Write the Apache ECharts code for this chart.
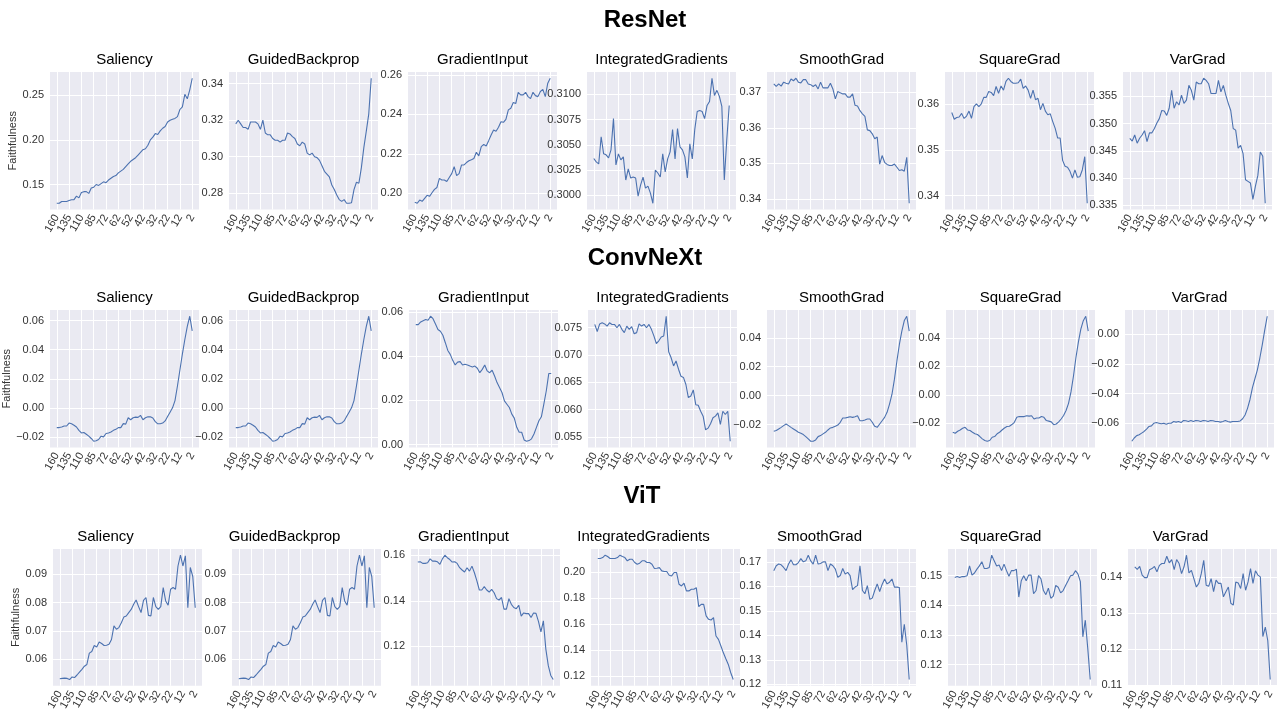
<!DOCTYPE html>
<html><head><meta charset="utf-8">
<script src="https://cdn.jsdelivr.net/npm/echarts@6/dist/echarts.min.js"></script>
<style>html,body{margin:0;padding:0;background:#fff}#c{width:1278px;height:713px}</style>
</head><body><div id="c"></div>
<script>
// ---------- categories & labels ----------
const xCategories = [160,155,150,145,140,135,130,125,120,115,110,105,100,95,90,85,82,80,78,75,
  72,70,68,66,64,62,60,58,56,54,52,50,48,46,44,42,40,38,36,34,32,30,28,26,24,22,20,18,16,14,12,10,8,6,4,2];
const xTickLabels = ['160','135','110','85','72','62','52','42','32','22','12','2'];
const rowNames = ['ResNet','ConvNeXt','ViT'];
const methods = ['Saliency','GuidedBackprop','GradientInput','IntegratedGradients','SmoothGrad','SquareGrad','VarGrad'];
const yAxisName = 'Faithfulness';

// ---------- ResNet ----------
const resnetSaliency = [0.129,0.129,0.131,0.131,0.131,0.132,0.133,0.133,0.137,0.135,0.141,0.142,0.142,0.140,0.146,0.147,0.150,0.149,0.151,0.153,0.152,0.155,0.157,0.159,0.160,0.163,0.165,0.167,0.170,0.173,0.176,0.178,0.180,0.183,0.186,0.189,0.190,0.194,0.200,0.203,0.207,0.206,0.210,0.213,0.215,0.220,0.222,0.223,0.224,0.226,0.234,0.237,0.251,0.246,0.256,0.269];
const resnetGuidedBackprop = [0.318,0.320,0.318,0.316,0.316,0.315,0.319,0.319,0.319,0.318,0.315,0.320,0.313,0.312,0.312,0.310,0.309,0.309,0.308,0.309,0.309,0.313,0.3125,0.311,0.310,0.307,0.306,0.308,0.307,0.302,0.301,0.302,0.300,0.2995,0.298,0.295,0.292,0.2905,0.289,0.2845,0.282,0.279,0.2765,0.2755,0.2765,0.2745,0.2745,0.2748,0.282,0.286,0.2855,0.294,0.305,0.314,0.3235,0.343];
const resnetGradientInput = [0.1955,0.195,0.1966,0.196,0.1975,0.199,0.1985,0.2003,0.202,0.203,0.2076,0.2068,0.2068,0.206,0.208,0.210,0.2135,0.209,0.210,0.2144,0.2144,0.2156,0.2165,0.217,0.2177,0.2208,0.219,0.2237,0.2248,0.224,0.2267,0.2296,0.2321,0.2315,0.2335,0.2363,0.236,0.2375,0.2423,0.2431,0.246,0.2455,0.2512,0.2499,0.2499,0.2512,0.249,0.248,0.2512,0.2495,0.249,0.2516,0.2527,0.249,0.2558,0.2583];
const resnetIntegratedGradients = [0.30364,0.3033,0.3031,0.3058,0.3041,0.3040,0.3037,0.3045,0.3076,0.3030,0.3041,0.3035,0.3038,0.3015,0.3026,0.3017,0.3018,0.3017,0.2999,0.3010,0.3018,0.3007,0.3009,0.3002,0.2992,0.3025,0.3022,0.3018,0.3041,0.3023,0.3036,0.3043,0.3065,0.3036,0.3066,0.3048,0.3045,0.3038,0.3017,0.3051,0.3036,0.3065,0.3083,0.3084,0.3083,0.3076,0.3089,0.3093,0.3116,0.3099,0.3104,0.3098,0.3088,0.3015,0.3055,0.3089];
const resnetSmoothGrad = [0.3723,0.3716,0.3723,0.3717,0.3728,0.3725,0.3723,0.3737,0.3732,0.3739,0.3728,0.3726,0.3735,0.3735,0.3723,0.3721,0.3716,0.3721,0.3709,0.3728,0.3712,0.3712,0.3712,0.3725,0.3709,0.3681,0.3702,0.3698,0.3695,0.3695,0.3686,0.3686,0.3695,0.3663,0.3661,0.3648,0.3639,0.3632,0.3594,0.3592,0.3583,0.3569,0.3574,0.3498,0.3522,0.3503,0.3497,0.3494,0.3494,0.3498,0.3489,0.3480,0.3482,0.3478,0.3517,0.3388];
const resnetSquareGrad = [0.3582,0.3567,0.3571,0.3572,0.358,0.3569,0.3574,0.3585,0.3569,0.3595,0.3601,0.3595,0.3601,0.3615,0.3615,0.3628,0.3626,0.3619,0.3639,0.3624,0.364,0.3631,0.365,0.3657,0.365,0.3646,0.3646,0.3647,0.3655,0.3635,0.364,0.3631,0.3613,0.3631,0.361,0.3613,0.3588,0.3602,0.3585,0.3577,0.3579,0.3562,0.3547,0.3526,0.3526,0.3477,0.3464,0.3462,0.3453,0.3438,0.3456,0.344,0.3441,0.3456,0.3485,0.3383];
const resnetVarGrad = [0.3473,0.3468,0.3479,0.3464,0.3473,0.3479,0.3487,0.3467,0.3483,0.3483,0.3491,0.3501,0.3509,0.3524,0.3523,0.3515,0.3528,0.3561,0.3528,0.354,0.3534,0.3552,0.3537,0.3543,0.357,0.3561,0.3543,0.3576,0.3573,0.3573,0.3583,0.3579,0.3573,0.3555,0.3555,0.3555,0.3579,0.3558,0.357,0.3552,0.3537,0.3524,0.3491,0.3488,0.3455,0.346,0.3445,0.3397,0.3394,0.3391,0.3361,0.3385,0.3405,0.3448,0.344,0.3354];

// ---------- ConvNeXt ----------
const convnextSaliency = [-0.0136,-0.0136,-0.0132,-0.0125,-0.0125,-0.0105,-0.011,-0.012,-0.0132,-0.0155,-0.0173,-0.017,-0.0182,-0.0195,-0.0211,-0.023,-0.0227,-0.0218,-0.0195,-0.02,-0.0177,-0.0173,-0.0166,-0.0155,-0.0148,-0.0136,-0.0136,-0.0109,-0.0112,-0.0068,-0.0082,-0.0068,-0.0064,-0.0066,-0.0052,-0.0082,-0.0068,-0.0062,-0.0062,-0.007,-0.0095,-0.011,-0.011,-0.0105,-0.009,-0.006,-0.003,0.0,0.005,0.015,0.026,0.037,0.047,0.056,0.063,0.053];
const convnextGuidedBackprop = [-0.0136,-0.0136,-0.0132,-0.0125,-0.0125,-0.0105,-0.011,-0.012,-0.0132,-0.0155,-0.0173,-0.017,-0.0182,-0.0195,-0.0211,-0.023,-0.0227,-0.0218,-0.0195,-0.02,-0.0177,-0.0173,-0.0166,-0.0155,-0.0148,-0.0136,-0.0136,-0.0109,-0.0112,-0.0068,-0.0082,-0.0068,-0.0064,-0.0066,-0.0052,-0.0082,-0.0068,-0.0062,-0.0062,-0.007,-0.0095,-0.011,-0.011,-0.0105,-0.009,-0.006,-0.003,0.0,0.005,0.015,0.026,0.037,0.047,0.056,0.063,0.053];
const convnextGradientInput = [0.0544,0.0544,0.0556,0.0562,0.0567,0.0564,0.0582,0.0571,0.0547,0.0522,0.0514,0.0496,0.0462,0.0427,0.0409,0.0382,0.0361,0.0374,0.0376,0.0361,0.0364,0.0361,0.0356,0.0352,0.0356,0.0346,0.0326,0.0341,0.0361,0.0334,0.0326,0.0337,0.0311,0.0281,0.0259,0.0236,0.0198,0.0183,0.0168,0.0138,0.012,0.0078,0.0056,0.0056,0.0021,0.0015,0.0018,0.0026,0.0048,0.0078,0.0108,0.0126,0.0183,0.0244,0.0322,0.0322];
const convnextIntegratedGradients = [0.0756,0.0743,0.0757,0.0759,0.0757,0.0753,0.0759,0.0756,0.0756,0.075,0.0756,0.0747,0.0741,0.0753,0.0747,0.0752,0.0739,0.0741,0.0757,0.0753,0.0756,0.075,0.0756,0.0747,0.0735,0.0721,0.0726,0.0733,0.0735,0.0771,0.0706,0.0695,0.068,0.0689,0.0674,0.0661,0.0659,0.0646,0.0622,0.0625,0.0636,0.0609,0.0608,0.0597,0.0588,0.0563,0.0566,0.0574,0.0585,0.0588,0.0594,0.0573,0.0597,0.0591,0.0597,0.0542];
const convnextSmoothGrad = [-0.0246,-0.0241,-0.023,-0.0219,-0.0207,-0.0196,-0.0207,-0.0219,-0.023,-0.0241,-0.0253,-0.026,-0.0269,-0.0283,-0.0299,-0.0315,-0.0315,-0.0306,-0.0283,-0.0276,-0.0264,-0.0253,-0.0237,-0.0223,-0.0219,-0.0212,-0.0203,-0.0184,-0.0154,-0.0154,-0.015,-0.0145,-0.015,-0.0145,-0.0138,-0.0173,-0.0173,-0.0168,-0.0161,-0.0161,-0.0184,-0.0212,-0.0219,-0.0196,-0.0173,-0.015,-0.0115,-0.0058,0.001,0.0114,0.024,0.0354,0.0446,0.0519,0.0549,0.0446];
const convnextSquareGrad = [-0.0263,-0.027,-0.0256,-0.0247,-0.0235,-0.0228,-0.0247,-0.0251,-0.0263,-0.0274,-0.0279,-0.0293,-0.0309,-0.0321,-0.0326,-0.0321,-0.0298,-0.0293,-0.0274,-0.0263,-0.0247,-0.0233,-0.0223,-0.0221,-0.0209,-0.0193,-0.0158,-0.0153,-0.0153,-0.0153,-0.0147,-0.015,-0.0147,-0.017,-0.0163,-0.0163,-0.0153,-0.0158,-0.0181,-0.0185,-0.019,-0.021,-0.0205,-0.019,-0.017,-0.0145,-0.011,-0.006,0.002,0.013,0.026,0.037,0.046,0.052,0.0551,0.0447];
const convnextVarGrad = [-0.0722,-0.07,-0.0684,-0.0678,-0.0667,-0.0656,-0.064,-0.0622,-0.0618,-0.06,-0.0596,-0.06,-0.0604,-0.06,-0.0607,-0.06,-0.06,-0.0589,-0.0593,-0.0589,-0.0596,-0.0582,-0.0584,-0.0589,-0.0582,-0.0589,-0.0582,-0.0584,-0.0589,-0.0582,-0.0584,-0.0589,-0.0582,-0.0584,-0.0589,-0.0589,-0.0593,-0.0589,-0.0582,-0.0589,-0.0593,-0.0589,-0.0589,-0.0589,-0.0585,-0.057,-0.0545,-0.05,-0.044,-0.036,-0.03,-0.024,-0.016,-0.007,0.003,0.0122];

// ---------- ViT ----------
const vitSaliency = [0.0532,0.0533,0.0534,0.0533,0.0529,0.0538,0.0536,0.0545,0.0555,0.0565,0.0576,0.0582,0.0622,0.0628,0.0649,0.0644,0.0661,0.0656,0.0649,0.065,0.0653,0.067,0.0718,0.0706,0.0712,0.0729,0.0749,0.0753,0.0765,0.0776,0.0794,0.0809,0.0786,0.0765,0.0808,0.0818,0.0755,0.0753,0.0818,0.0786,0.0776,0.0786,0.0853,0.0806,0.0791,0.0847,0.0853,0.0847,0.0929,0.0967,0.0929,0.0965,0.0782,0.0924,0.0892,0.0782];
const vitGuidedBackprop = [0.0532,0.0533,0.0534,0.0533,0.0529,0.0538,0.0536,0.0545,0.0555,0.0565,0.0576,0.0582,0.0622,0.0628,0.0649,0.0644,0.0661,0.0656,0.0649,0.065,0.0653,0.067,0.0718,0.0706,0.0712,0.0729,0.0749,0.0753,0.0765,0.0776,0.0794,0.0809,0.0786,0.0765,0.0808,0.0818,0.0755,0.0753,0.0818,0.0786,0.0776,0.0786,0.0853,0.0806,0.0791,0.0847,0.0853,0.0847,0.0929,0.0967,0.0929,0.0965,0.0782,0.0924,0.0892,0.0782];
const vitGradientInput = [0.1571,0.1572,0.1565,0.1565,0.1568,0.1585,0.1575,0.1575,0.1572,0.1561,0.1585,0.1601,0.159,0.1582,0.1571,0.1572,0.1565,0.1546,0.1536,0.1527,0.1546,0.1531,0.1553,0.1524,0.1488,0.1448,0.1448,0.1463,0.1448,0.1439,0.1451,0.1436,0.141,0.1404,0.1415,0.1364,0.1364,0.141,0.1385,0.1371,0.1366,0.1381,0.1333,0.1347,0.1344,0.1344,0.1327,0.1347,0.1345,0.131,0.1264,0.1312,0.1188,0.1115,0.1072,0.1054];
const vitIntegratedGradients = [0.2103,0.2103,0.211,0.2128,0.2118,0.2103,0.2103,0.2103,0.211,0.2128,0.2118,0.211,0.2085,0.2097,0.2097,0.2072,0.2059,0.2067,0.2085,0.2085,0.2072,0.2072,0.2059,0.2026,0.2028,0.2033,0.2008,0.2003,0.2003,0.1974,0.1969,0.1995,0.1995,0.1905,0.1892,0.1913,0.1854,0.1854,0.1867,0.1867,0.1879,0.1733,0.1751,0.1751,0.1662,0.1636,0.1631,0.1649,0.1508,0.1482,0.1431,0.1379,0.1333,0.129,0.1226,0.1174];
const vitSmoothGrad = [0.1664,0.1684,0.1691,0.1688,0.1677,0.1664,0.1691,0.1708,0.1688,0.1688,0.1697,0.1713,0.17,0.1704,0.1727,0.1704,0.1691,0.1727,0.1691,0.1693,0.17,0.17,0.1664,0.1691,0.1684,0.167,0.1637,0.1644,0.1673,0.165,0.1657,0.1644,0.1587,0.1597,0.1603,0.1684,0.1583,0.157,0.1603,0.1547,0.1552,0.1583,0.161,0.1579,0.1608,0.163,0.161,0.1617,0.163,0.1597,0.1597,0.1595,0.1372,0.1445,0.136,0.122];
const vitSquareGrad = [0.1494,0.1497,0.1494,0.1497,0.1497,0.15,0.1533,0.1502,0.1509,0.1522,0.1533,0.1547,0.1524,0.1524,0.1528,0.1569,0.155,0.1533,0.1536,0.1517,0.1539,0.1517,0.1498,0.1517,0.1517,0.1522,0.1428,0.1483,0.15,0.1483,0.1502,0.1502,0.1439,0.145,0.15,0.1489,0.145,0.1436,0.1458,0.1424,0.1431,0.1467,0.1461,0.1442,0.145,0.1467,0.1483,0.15,0.1502,0.1517,0.1506,0.148,0.1294,0.135,0.1255,0.115];
const vitVarGrad = [0.1428,0.1421,0.1429,0.1405,0.1398,0.1398,0.142,0.1423,0.1429,0.1414,0.1432,0.1437,0.1437,0.1457,0.1439,0.1448,0.142,0.1448,0.1437,0.1409,0.1428,0.146,0.1411,0.1418,0.1395,0.1372,0.1382,0.1409,0.1446,0.1377,0.1374,0.1395,0.1359,0.1391,0.1382,0.1382,0.1345,0.1359,0.1372,0.1327,0.1322,0.1386,0.1383,0.1368,0.1409,0.1363,0.1386,0.1423,0.1382,0.1417,0.1405,0.14,0.1235,0.1261,0.1224,0.1116];

// ---------- y tick labels ----------
const resnetTicks = [['0.15','0.20','0.25'],['0.28','0.30','0.32','0.34'],['0.20','0.22','0.24','0.26'],['0.3000','0.3025','0.3050','0.3075','0.3100'],['0.34','0.35','0.36','0.37'],['0.34','0.35','0.36'],['0.335','0.340','0.345','0.350','0.355']];
const convnextTicks = [['−0.02','0.00','0.02','0.04','0.06'],['−0.02','0.00','0.02','0.04','0.06'],['0.00','0.02','0.04','0.06'],['0.055','0.060','0.065','0.070','0.075'],['−0.02','0.00','0.02','0.04'],['−0.02','0.00','0.02','0.04'],['−0.06','−0.04','−0.02','0.00']];
const vitTicks = [['0.06','0.07','0.08','0.09'],['0.06','0.07','0.08','0.09'],['0.12','0.14','0.16'],['0.12','0.14','0.16','0.18','0.20'],['0.12','0.13','0.14','0.15','0.16','0.17'],['0.12','0.13','0.14','0.15'],['0.11','0.12','0.13','0.14']];

const rowData = [
  [resnetSaliency,resnetGuidedBackprop,resnetGradientInput,resnetIntegratedGradients,resnetSmoothGrad,resnetSquareGrad,resnetVarGrad],
  [convnextSaliency,convnextGuidedBackprop,convnextGradientInput,convnextIntegratedGradients,convnextSmoothGrad,convnextSquareGrad,convnextVarGrad],
  [vitSaliency,vitGuidedBackprop,vitGradientInput,vitIntegratedGradients,vitSmoothGrad,vitSquareGrad,vitVarGrad]
];
const rowTicks = [resnetTicks, convnextTicks, vitTicks];

// ---------- layout ----------
const rowTops = [72, 310, 549];
const plotH = 137.5;
const plotW = 149;
const colLefts = [
  [50,229,408,587,767,945,1123],
  [50,229,409,588,767,946,1125],
  [53,232,411,591,767,948,1128]
];
const rowTitleY = [20.5, 258, 496.5];
const rowTitleX = [645, 645, 642];
const panelTitleOffsetY = 12.5;
const panelTitleShiftX = [0, 0, -22];
const nameGaps = [27, 32, 27];

const FONT = '"Liberation Sans", Arial, Helvetica, sans-serif';
const grids = [], xAxes = [], yAxes = [], series = [], graphics = [];
const toNum = s => parseFloat(s.replace('−','-'));
const xTickIdx = xTickLabels.map(l => xCategories.indexOf(parseInt(l)));
const xTickIdxA = xTickIdx.filter((v, i) => i % 2 === 0);
const xTickIdxB = xTickIdx.filter((v, i) => i % 2 === 1);
const nX = xCategories.length;
const xPad = (nX - 1) * 0.05;

function xAxisDef(k, labelVals, withSplit) {
  return {type:'value', gridIndex:k, position:'bottom', offset:0, min: -xPad, max: nX - 1 + xPad,
    axisLine:{show:false}, axisTick:{show:false, customValues: withSplit ? xTickIdx : labelVals},
    splitLine:{show:withSplit, lineStyle:{color:'#fff', width:1}},
    axisLabel:{customValues: labelVals, rotate:60, fontSize:11, color:'#333', margin:6, fontFamily: FONT,
      showMinLabel:true, showMaxLabel:true, hideOverlap:false,
      formatter: v => String(xCategories[Math.round(v)])}};
}

let axisCount = 0;
rowNames.forEach((rn, r) => {
  graphics.push({type:'text', x: rowTitleX[r], y: rowTitleY[r],
    style:{text: rn, font: 'bold 24px ' + FONT, fill:'#000', textAlign:'center', textVerticalAlign:'middle'}});
  methods.forEach((m, c) => {
    const k = grids.length;
    const data = rowData[r][c];
    const ticks = rowTicks[r][c];
    const tickVals = ticks.map(toNum);
    let lo = Math.min(...data), hi = Math.max(...data);
    const pad = (hi - lo) * 0.05;
    grids.push({left: colLefts[r][c], top: rowTops[r], width: plotW, height: plotH,
      show: true, backgroundColor: '#EAEAF2', borderWidth: 0, containLabel: false});
    const xi = xAxes.length;
    xAxes.push(xAxisDef(k, xTickIdxA, true));
    xAxes.push(xAxisDef(k, xTickIdxB, false));
    yAxes.push({type:'value', gridIndex:k, min: lo - pad, max: hi + pad, scale:true,
      name: c === 0 ? yAxisName : '', nameLocation:'middle', nameGap: nameGaps[r],
      nameTextStyle:{fontSize:11, color:'#333', fontFamily: FONT},
      axisLine:{show:false}, axisTick:{show:false, customValues: tickVals},
      splitLine:{show:true, lineStyle:{color:'#fff', width:1}},
      axisLabel:{customValues: tickVals, fontSize:11, color:'#333', margin:6, fontFamily: FONT,
        showMinLabel:true, showMaxLabel:true, hideOverlap:false,
        formatter: v => { let best = 0, bd = Infinity; tickVals.forEach((t,i)=>{const d=Math.abs(t-v); if(d<bd){bd=d;best=i;}}); return ticks[best]; }}});
    series.push({type:'line', xAxisIndex:xi, yAxisIndex:k, showSymbol:false, symbol:'none',
      lineStyle:{color:'#4C72B0', width:1.1}, data: data.map((v,i)=>[i,v]), silent:true});
    graphics.push({type:'text', x: colLefts[r][c] + plotW/2 + panelTitleShiftX[r], y: rowTops[r] - panelTitleOffsetY,
      style:{text: m, font: '15px ' + FONT, fill:'#000', textAlign:'center', textVerticalAlign:'middle'}});
  });
});

const chart = echarts.init(document.getElementById('c'), null, {renderer:'canvas'});
chart.setOption({animation:false, backgroundColor:'#fff', grid:grids, xAxis:xAxes, yAxis:yAxes, series:series, graphic:graphics});
</script></body></html>
